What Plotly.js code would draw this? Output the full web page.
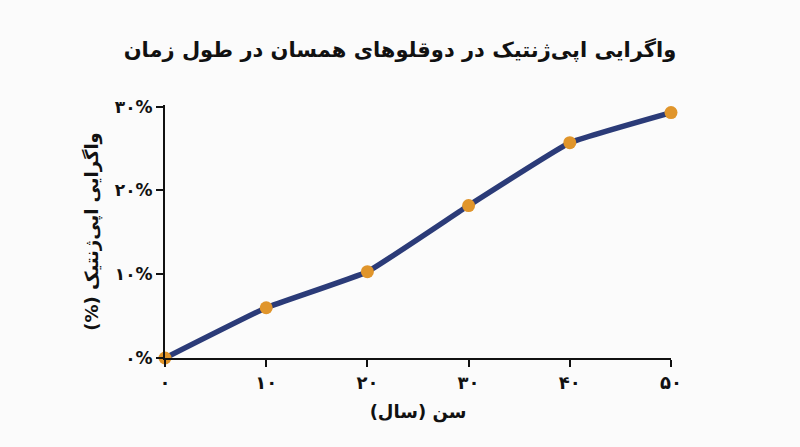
<!DOCTYPE html>
<html>
<head>
<meta charset="utf-8">
<script src="https://cdn.plot.ly/plotly-3.0.1.min.js"></script>
<style>html,body{margin:0;padding:0;background:#fbfbfb;}#chart{width:800px;height:447px;}</style>
</head>
<body>
<div id="chart"></div>
<script>
const ages = [0, 10, 20, 30, 40, 50];
const divergence = [0, 6, 10.3, 18.2, 25.7, 29.3];
const xTickVals = [0, 10, 20, 30, 40, 50];
const xTickText = ['۰', '۱۰', '۲۰', '۳۰', '۴۰', '۵۰'];
const yTickVals = [0, 10, 20, 30];
const yTickText = ['۰%', '۱۰%', '۲۰%', '۳۰%'];

const FONT = 'DejaVu Sans, sans-serif';
const RLM = '\u200F';

const traces = [
  {
    x: ages, y: divergence, type: 'scatter', mode: 'lines',
    line: {color: '#2b3b78', width: 5.5, shape: 'spline', smoothing: 0.3},
    hoverinfo: 'skip', cliponaxis: false
  },
  {
    x: ages, y: divergence, type: 'scatter', mode: 'markers',
    marker: {color: '#e0952b', size: 13},
    cliponaxis: false
  }
];

const layout = {
  width: 800, height: 447,
  paper_bgcolor: '#fbfbfb', plot_bgcolor: '#fbfbfb',
  showlegend: false,
  margin: {l: 165, r: 129, t: 105, b: 89},
  font: {family: FONT, color: '#111', size: 16},
  title: {
    text: '<b>واگرایی اپی‌ژنتیک در دوقلوهای همسان در طول زمان</b>',
    font: {family: FONT, size: 21, color: '#111'},
    x: 0.5, xanchor: 'center', y: 0.89, yanchor: 'middle'
  },
  xaxis: {
    range: [0, 50], tickvals: xTickVals, ticktext: xTickText,
    showgrid: false, zeroline: false, showline: true, linecolor: '#111', linewidth: 2,
    ticks: 'outside', ticklen: 7, tickwidth: 2, tickcolor: '#111',
    tickfont: {family: FONT, size: 18, color: '#111', weight: 'bold'},
    title: {text: '<b>' + RLM + 'سن (سال)' + RLM + '</b>', font: {family: FONT, size: 18, color: '#111'}, standoff: 14}
  },
  yaxis: {
    range: [0, 30.2], tickvals: yTickVals, ticktext: yTickText,
    showgrid: false, zeroline: false, showline: true, linecolor: '#111', linewidth: 2,
    ticks: 'outside', ticklen: 7, tickwidth: 2, tickcolor: '#111',
    tickfont: {family: FONT, size: 17, color: '#111', weight: 'bold'},
    title: {text: '<b>' + RLM + 'واگرایی اپی‌ژنتیک (%)' + RLM + '</b>', font: {family: FONT, size: 18, color: '#111'}, standoff: 12}
  }
};

Plotly.newPlot('chart', traces, layout, {displayModeBar: false, staticPlot: true});
</script>
</body>
</html>
